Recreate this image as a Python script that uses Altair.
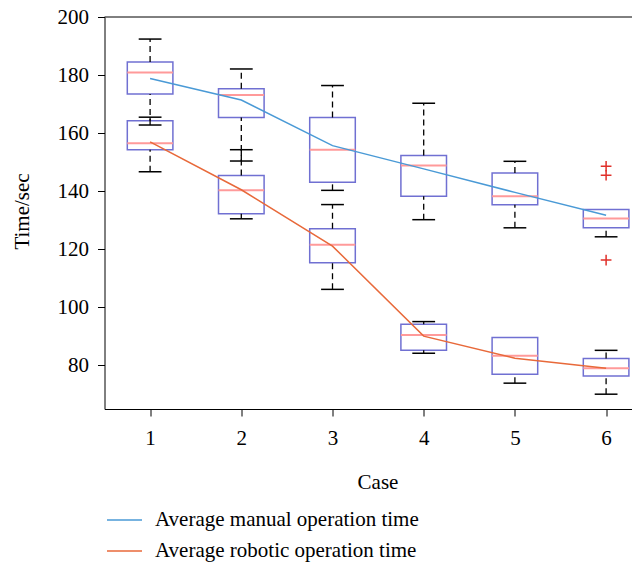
import altair as alt
import pandas as pd

cases = [1, 2, 3, 4, 5, 6]
manual_lower = [162.8, 150.4, 140.3, 130.2, 127.4, 124.3]
manual_q1 = [173.5, 165.4, 143.1, 138.3, 135.3, 127.4]
manual_median = [180.9, 173.1, 154.3, 148.9, 138.3, 130.6]
manual_q3 = [184.5, 175.3, 165.4, 152.3, 146.3, 133.7]
manual_upper = [192.4, 182.1, 176.4, 170.3, 150.3, 133.7]
manual_mean = [178.8, 171.4, 155.7, 147.7, 139.6, 131.7]

robotic_lower = [146.7, 130.5, 106.2, 84.2, 73.9, 70.1]
robotic_q1 = [154.3, 132.2, 115.4, 85.2, 77.0, 76.4]
robotic_median = [156.5, 140.3, 121.6, 90.5, 83.3, 79.0]
robotic_q3 = [164.3, 145.4, 127.1, 94.2, 89.6, 82.4]
robotic_upper = [165.5, 154.3, 135.4, 95.1, 89.6, 85.2]
robotic_mean = [157.0, 140.5, 121.1, 90.1, 82.5, 79.0]

outlier_case = [6, 6, 6]
outlier_value = [148.6, 145.5, 116.3]

series_names = ["Average manual operation time", "Average robotic operation time"]
series_colors = ["#4a9ad6", "#e8693a"]
y_ticks = [80, 100, 120, 140, 160, 180, 200]

FONT = "Liberation Serif"
FS = 21
W = 527.5
H = 392

box_rows = []
for i, c in enumerate(cases):
    box_rows.append(dict(case=c, lower=manual_lower[i], q1=manual_q1[i], median=manual_median[i],
                         q3=manual_q3[i], upper=manual_upper[i]))
    box_rows.append(dict(case=c, lower=robotic_lower[i], q1=robotic_q1[i], median=robotic_median[i],
                         q3=robotic_q3[i], upper=robotic_upper[i]))
box_df = pd.DataFrame(box_rows)

mean_df = pd.DataFrame(
    [dict(case=c, value=v, series=series_names[0]) for c, v in zip(cases, manual_mean)]
    + [dict(case=c, value=v, series=series_names[1]) for c, v in zip(cases, robotic_mean)]
)
out_df = pd.DataFrame(dict(case=outlier_case, value=outlier_value))

# plot area in the reference runs past the right edge of the picture
xs = alt.Scale(domain=[0.5, 0.5 + W / 91.2], nice=False, zero=False)
ys = alt.Scale(domain=[65, 200], nice=False, zero=False)

x_axis = alt.Axis(values=cases, format="d", title="Case", tickSize=7, labelPadding=28,
                  labelBaseline="alphabetic", titleY=79, titleBaseline="alphabetic",
                  titleX=273, titleAnchor="middle", grid=False)
y_axis = alt.Axis(values=y_ticks, title="Time/sec", tickSize=7, labelPadding=9,
                  titleX=-76, titleY=194, titleAngle=270, titleAlign="center",
                  titleBaseline="alphabetic", grid=False)

base = alt.Chart(box_df).transform_calculate(
    lo="datum.case - 0.25", hi="datum.case + 0.25",
    clo="datum.case - 0.125", chi="datum.case + 0.125",
)

boxes = base.mark_rect(fill="transparent", stroke="#7070d2", strokeWidth=1.5).encode(
    x=alt.X("lo:Q", scale=xs, axis=x_axis),
    x2="hi:Q",
    y=alt.Y("q1:Q", scale=ys, axis=y_axis),
    y2="q3:Q",
)

whisk_up = base.mark_rule(color="black", strokeWidth=1.3, strokeDash=[6, 4]).encode(
    x=alt.X("case:Q", scale=xs), y=alt.Y("q3:Q", scale=ys), y2="upper:Q")
whisk_dn = base.mark_rule(color="black", strokeWidth=1.3, strokeDash=[6, 4]).encode(
    x=alt.X("case:Q", scale=xs), y=alt.Y("lower:Q", scale=ys), y2="q1:Q")

cap_up = base.transform_filter("datum.upper > datum.q3").mark_rule(
    color="black", strokeWidth=1.5).encode(
    x=alt.X("clo:Q", scale=xs), x2="chi:Q", y=alt.Y("upper:Q", scale=ys))
cap_dn = base.transform_filter("datum.lower < datum.q1").mark_rule(
    color="black", strokeWidth=1.5).encode(
    x=alt.X("clo:Q", scale=xs), x2="chi:Q", y=alt.Y("lower:Q", scale=ys))

medians = base.mark_rule(color="#ff9a9a", strokeWidth=2).encode(
    x=alt.X("lo:Q", scale=xs), x2="hi:Q", y=alt.Y("median:Q", scale=ys))

outliers = alt.Chart(out_df).mark_point(
    shape="M-1,0L1,0M0,-1L0,1", filled=False, stroke="#e0302a", strokeWidth=1.5,
    size=115, opacity=1).encode(
    x=alt.X("case:Q", scale=xs), y=alt.Y("value:Q", scale=ys))

lines = alt.Chart(mean_df).mark_line(strokeWidth=1.5).encode(
    x=alt.X("case:Q", scale=xs),
    y=alt.Y("value:Q", scale=ys),
    color=alt.Color("series:N",
                    scale=alt.Scale(domain=series_names, range=series_colors),
                    legend=alt.Legend(orient="none", legendX=1.5, legendY=490.5, title=None,
                                      symbolType="stroke", symbolSize=1225,
                                      symbolStrokeWidth=1.5, labelFont=FONT,
                                      labelFontSize=FS, labelColor="black",
                                      labelOffset=12, clipHeight=25, rowPadding=6,
                                      labelLimit=0, padding=0)),
)

top_frame = alt.Chart(pd.DataFrame({"k": [0]})).mark_rule(color="black", strokeWidth=1).encode(
    x=alt.value(0), x2=alt.value(W), y=alt.value(0))

chart = alt.layer(top_frame, boxes, whisk_up, whisk_dn, cap_up, cap_dn, medians, lines,
                  outliers).properties(
    width=W, height=H,
    autosize=alt.AutoSizeParams(type="none"),
    padding={"left": 96.5, "top": 9, "right": 0, "bottom": 155},
).configure_view(
    stroke=None
).configure_axis(
    labelFont=FONT, labelFontSize=FS, labelColor="black",
    titleFont=FONT, titleFontSize=FS, titleFontWeight="normal", titleColor="black",
    domainColor="black", tickColor="black", domainWidth=1, tickWidth=1,
)

chart.save("out.html", embed_options={"renderer": "svg", "actions": False})
